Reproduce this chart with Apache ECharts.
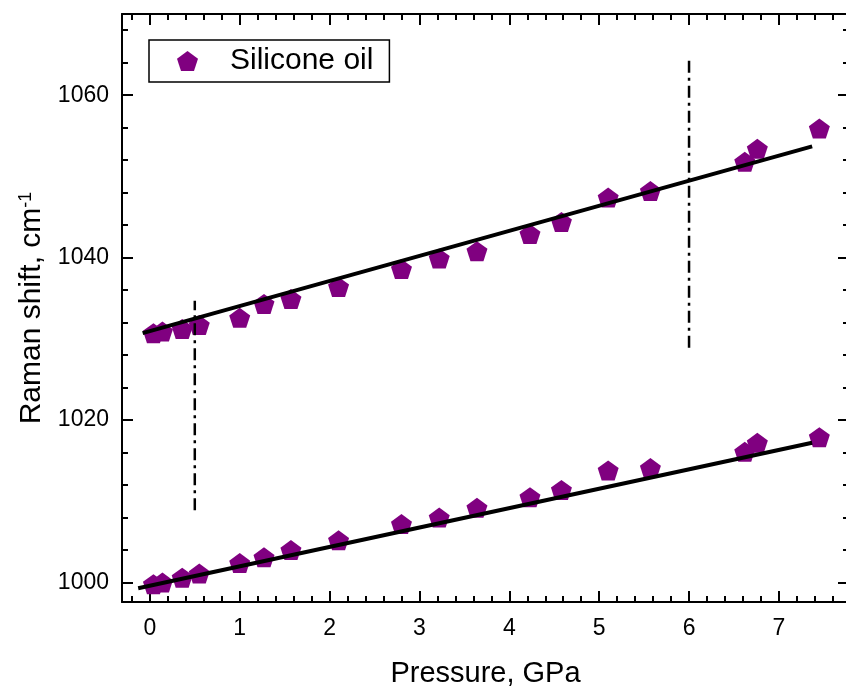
<!DOCTYPE html>
<html>
<head>
<meta charset="utf-8">
<script src="https://cdn.jsdelivr.net/npm/echarts@6/dist/echarts.min.js"></script>
<style>
  html, body { margin: 0; padding: 0; background: #fff; }
  #app { width: 846px; height: 687px; }
</style>
</head>
<body>
<div id="app"></div>
<script>
// pressure values (GPa), same for both branches
var pressure = [0.04, 0.14, 0.36, 0.55, 1.0, 1.27, 1.57, 2.1, 2.8, 3.22, 3.64, 4.23, 4.58, 5.1, 5.57, 6.62, 6.76, 7.45];
var upperShift = [1030.7, 1030.9, 1031.2, 1031.7, 1032.6, 1034.3, 1034.9, 1036.4, 1038.6, 1039.9, 1040.8, 1042.9, 1044.4, 1047.4, 1048.2, 1051.8, 1053.4, 1055.9];
var lowerShift = [999.8, 1000.0, 1000.6, 1001.1, 1002.4, 1003.1, 1004.0, 1005.2, 1007.2, 1008.0, 1009.2, 1010.5, 1011.4, 1013.8, 1014.1, 1016.1, 1017.2, 1017.9];

// linear fits (end points)
var upperFitX = [-0.08, 7.37];
var upperFitY = [1030.7, 1053.7];
var lowerFitX = [-0.13, 7.37];
var lowerFitY = [999.3, 1017.2];

// dash-dot markers
var markA = { x: 0.5, y: [1008.9, 1034.7] };
var markB = { x: 6, y: [1028.9, 1064.3] };

// ticks
var xMajor = [0, 1, 2, 3, 4, 5, 6, 7];
var xMinor = [-0.2, 0.2, 0.4, 0.6, 0.8, 1.2, 1.4, 1.6, 1.8, 2.2, 2.4, 2.6, 2.8, 3.2, 3.4, 3.6, 3.8, 4.2, 4.4, 4.6, 4.8, 5.2, 5.4, 5.6, 5.8, 6.2, 6.4, 6.6, 6.8, 7.2, 7.4, 7.6];
var yMajor = [1000, 1020, 1040, 1060];
var yMinor = [1004, 1008, 1012, 1016, 1024, 1028, 1032, 1036, 1044, 1048, 1052, 1056, 1064, 1068];

var xRange = [-0.31, 7.78];
var yRange = [997.6, 1070];

var FONT = '"Liberation Sans", Arial, sans-serif';
var PENTAGON = 'path://M0,-1L0.951,-0.309L0.588,0.809L-0.588,0.809L-0.951,-0.309Z';

function pairs(xs, ys) {
    return xs.map(function (x, i) { return [x, ys[i]]; });
}

function tickAxis(pos, range, ticks, len, showLine, extra) {
    var ax = {
        type: 'value',
        position: pos,
        min: range[0],
        max: range[1],
        splitLine: { show: false },
        axisLine: { show: showLine, onZero: false, lineStyle: { color: '#000', width: 2 } },
        axisTick: { show: true, inside: true, length: len, customValues: ticks, lineStyle: { color: '#000', width: 2 } },
        axisLabel: { show: false }
    };
    return Object.assign(ax, extra || {});
}

var chart = echarts.init(document.getElementById('app'));

chart.setOption({
    backgroundColor: '#fff',
    animation: false,
    grid: { left: 122, top: 14, width: 727, height: 588, outerBoundsMode: 'none' },
    legend: {
        left: 149,
        top: 40,
        padding: [6, 16, 6, 28],
        borderColor: '#000',
        borderWidth: 1.5,
        itemWidth: 21,
        itemHeight: 20,
        icon: PENTAGON,
        data: ['Silicone oil'],
        textStyle: { fontFamily: FONT, fontSize: 30, color: '#000', padding: [0, 0, 0, 27] }
    },
    xAxis: [
        tickAxis('bottom', xRange, xMajor, 11, true, {
            name: 'Pressure, GPa',
            nameLocation: 'middle',
            nameGap: 57,
            nameTextStyle: { fontFamily: FONT, fontSize: 29, color: '#000' },
            axisLabel: { show: true, customValues: xMajor, margin: 15, fontFamily: FONT, fontSize: 23, color: '#000' }
        }),
        tickAxis('bottom', xRange, xMinor, 6, false),
        tickAxis('top', xRange, xMajor, 11, true),
        tickAxis('top', xRange, xMinor, 6, false)
    ],
    yAxis: [
        tickAxis('left', yRange, yMajor, 11, true, {
            name: '{a|Raman shift, cm}{b|-1}',
            nameLocation: 'middle',
            nameGap: 74,
            nameTextStyle: {
                rich: {
                    a: { fontFamily: FONT, fontSize: 30, color: '#000' },
                    b: { fontFamily: FONT, fontSize: 18, color: '#000', verticalAlign: 'top' }
                }
            },
            axisLabel: {
                show: true, customValues: yMajor, margin: 13, fontFamily: FONT, fontSize: 23, color: '#000',
                formatter: function (v) { return String(v); }
            }
        }),
        tickAxis('left', yRange, yMinor, 6, false),
        tickAxis('right', yRange, yMajor, 11, true),
        tickAxis('right', yRange, yMinor, 6, false)
    ],
    series: [
        {
            name: 'Silicone oil',
            type: 'scatter',
            symbol: PENTAGON,
            symbolSize: [21, 20],
            itemStyle: { color: '#800080', opacity: 1 },
            data: pairs(pressure, upperShift),
            z: 2
        },
        {
            name: 'Silicone oil',
            type: 'scatter',
            symbol: PENTAGON,
            symbolSize: [21, 20],
            itemStyle: { color: '#800080', opacity: 1 },
            data: pairs(pressure, lowerShift),
            z: 2
        },
        {
            name: 'fit upper',
            type: 'line',
            symbol: 'none',
            lineStyle: { color: '#000', width: 4 },
            data: pairs(upperFitX, upperFitY),
            z: 3
        },
        {
            name: 'fit lower',
            type: 'line',
            symbol: 'none',
            lineStyle: { color: '#000', width: 4 },
            data: pairs(lowerFitX, lowerFitY),
            z: 3
        },
        {
            name: 'mark 0.5',
            type: 'line',
            symbol: 'none',
            lineStyle: { color: '#000', width: 2.5, type: [12, 5, 3, 5] },
            data: [[markA.x, markA.y[0]], [markA.x, markA.y[1]]],
            z: 3
        },
        {
            name: 'mark 6',
            type: 'line',
            symbol: 'none',
            lineStyle: { color: '#000', width: 2.5, type: [12, 5, 3, 5] },
            data: [[markB.x, markB.y[0]], [markB.x, markB.y[1]]],
            z: 3
        }
    ]
});
</script>
</body>
</html>
